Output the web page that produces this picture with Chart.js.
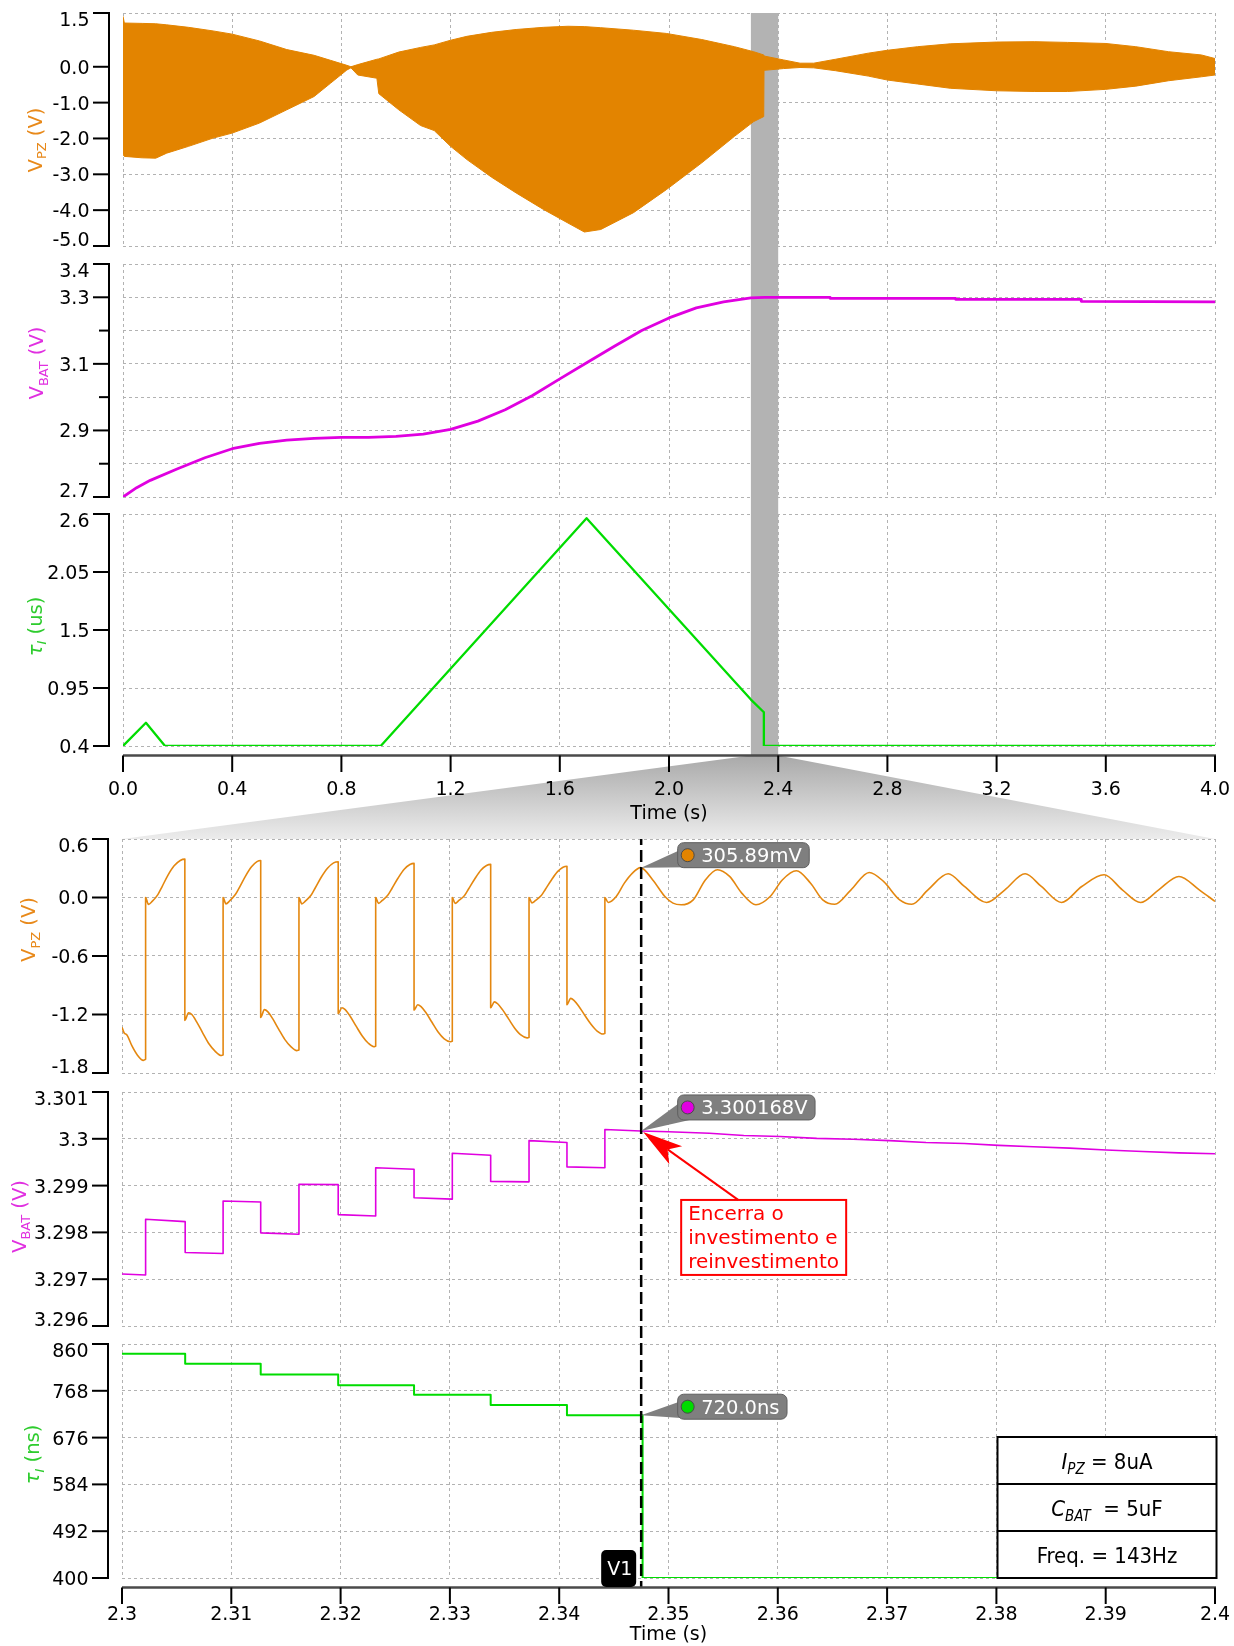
<!DOCTYPE html>
<html>
<head>
<meta charset="utf-8">
<title>VPZ, VBAT e tau</title>
<script src="https://cdn.jsdelivr.net/npm/chart.js@4.4.1/dist/chart.umd.min.js"></script>
<style>
  html, body { margin: 0; padding: 0; background: #fff; }
  #page { position: relative; width: 1234px; height: 1646px; overflow: hidden; }
  #page canvas { position: absolute; left: 0; }
</style>
</head>
<body>
<div id="page">
  <canvas id="bg" width="1234" height="1646" style="top:0"></canvas>
  <canvas id="c1"></canvas>
  <canvas id="c2"></canvas>
  <canvas id="c3"></canvas>
  <canvas id="c4"></canvas>
  <canvas id="c5"></canvas>
  <canvas id="c6"></canvas>
</div>
<script>
// ---- data ----

// top: 0..4 s, V_PZ drawn as its envelope
var envTime  = [0.000, 0.005, 0.07, 0.12, 0.16, 0.24, 0.33, 0.40, 0.50, 0.60, 0.70, 0.76, 0.82, 0.835, 0.86, 0.93, 0.937,
                1.01, 1.09, 1.14, 1.20, 1.26, 1.35, 1.44, 1.54, 1.63, 1.69, 1.75, 1.87, 1.99, 2.12, 2.24, 2.31, 2.347, 2.348,
                2.42, 2.48, 2.53, 2.61, 2.73, 2.80, 2.91, 3.03, 3.20, 3.34, 3.46, 3.60, 3.71, 3.83, 3.95, 4.00];
var envUpper = [1.41, 1.22, 1.21, 1.20, 1.17, 1.10, 1.00, 0.91, 0.72, 0.48, 0.32, 0.18, 0.04, 0.00, 0.06, 0.21, 0.22,
                0.41, 0.54, 0.61, 0.74, 0.85, 0.96, 1.04, 1.10, 1.13, 1.12, 1.09, 1.02, 0.93, 0.76, 0.56, 0.42, 0.33, 0.30,
                0.19, 0.10, 0.10, 0.21, 0.38, 0.46, 0.56, 0.64, 0.69, 0.70, 0.68, 0.65, 0.56, 0.42, 0.33, 0.23];
var envLower = [-2.45, -2.50, -2.54, -2.55, -2.41, -2.22, -1.99, -1.85, -1.57, -1.20, -0.83, -0.46, -0.09, -0.03, -0.23, -0.32, -0.75,
                -1.20, -1.64, -1.78, -2.22, -2.59, -3.08, -3.52, -3.98, -4.36, -4.61, -4.54, -4.07, -3.43, -2.68, -1.94, -1.53, -1.39, -0.10,
                -0.05, -0.02, -0.03, -0.11, -0.26, -0.37, -0.48, -0.60, -0.67, -0.69, -0.69, -0.63, -0.54, -0.39, -0.28, -0.23];

var topVbat = [[0, 2.700], [0.05, 2.728], [0.1, 2.750], [0.2, 2.785], [0.3, 2.818], [0.4, 2.845], [0.5, 2.861], [0.6, 2.871],
               [0.7, 2.876], [0.8, 2.879], [0.9, 2.879], [1.0, 2.882], [1.1, 2.889], [1.2, 2.903], [1.3, 2.928], [1.4, 2.962],
               [1.5, 3.005], [1.6, 3.055], [1.7, 3.104], [1.8, 3.153], [1.9, 3.200], [2.0, 3.238], [2.1, 3.268], [2.2, 3.286],
               [2.3, 3.298], [2.35, 3.300], [2.59, 3.300], [2.59, 3.297], [3.05, 3.297], [3.05, 3.294], [3.51, 3.294],
               [3.51, 3.288], [4.0, 3.286]];

var topTau = [[0, 0.4], [0.084, 0.62], [0.154, 0.4], [0.944, 0.4], [1.698, 2.56], [2.30, 0.84], [2.3475, 0.72],
              [2.3475, 0.4], [4.0, 0.4]];

// bottom: zoom 2.30..2.40 s
var zoomVpz = [
  [2.30000, -1.33], [2.30020, -1.39], [2.30045, -1.41], [2.30090, -1.52], [2.30140, -1.615], [2.30195, -1.67], [2.30216, -1.66],
  [2.30216, 0.00], [2.30242, -0.07], [2.30276, -0.04], [2.30328, 0.03], [2.30366, 0.11], [2.30421, 0.23], [2.30477, 0.325], [2.30533, 0.38], [2.30575, 0.394],
  [2.30575, -1.26], [2.30609, -1.183], [2.30639, -1.20], [2.30683, -1.275], [2.30739, -1.39], [2.30795, -1.50], [2.30851, -1.575], [2.30907, -1.62], [2.30925, -1.615],
  [2.30925, 0.00], [2.30951, -0.065], [2.30985, -0.035], [2.31037, 0.03], [2.31075, 0.105], [2.31130, 0.22], [2.31185, 0.315], [2.31235, 0.368], [2.31269, 0.38],
  [2.31269, -1.23], [2.31303, -1.15], [2.31333, -1.17], [2.31377, -1.24], [2.31433, -1.35], [2.31489, -1.455], [2.31545, -1.53], [2.31600, -1.57], [2.31619, -1.565],
  [2.31619, 0.00], [2.31645, -0.065], [2.31679, -0.035], [2.31731, 0.025], [2.31769, 0.10], [2.31824, 0.21], [2.31880, 0.30], [2.31936, 0.355], [2.31978, 0.367],
  [2.31978, -1.19], [2.32012, -1.13], [2.32042, -1.15], [2.32086, -1.215], [2.32142, -1.32], [2.32198, -1.42], [2.32254, -1.495], [2.32305, -1.53], [2.32321, -1.525],
  [2.32321, 0.00], [2.32347, -0.06], [2.32381, -0.03], [2.32433, 0.025], [2.32471, 0.095], [2.32526, 0.20], [2.32582, 0.29], [2.32634, 0.338], [2.32672, 0.35],
  [2.32672, -1.155], [2.32706, -1.10], [2.32736, -1.12], [2.32780, -1.18], [2.32836, -1.28], [2.32892, -1.38], [2.32948, -1.45], [2.33004, -1.48], [2.33022, -1.475],
  [2.33022, 0.00], [2.33048, -0.06], [2.33082, -0.03], [2.33134, 0.02], [2.33172, 0.09], [2.33227, 0.19], [2.33283, 0.28], [2.33335, 0.328], [2.33373, 0.34],
  [2.33373, -1.13], [2.33407, -1.07], [2.33437, -1.09], [2.33481, -1.15], [2.33537, -1.245], [2.33593, -1.34], [2.33649, -1.41], [2.33705, -1.44], [2.33724, -1.435],
  [2.33724, 0.00], [2.33750, -0.055], [2.33784, -0.03], [2.33836, 0.02], [2.33874, 0.085], [2.33929, 0.18], [2.33985, 0.265], [2.34035, 0.31], [2.34071, 0.32],
  [2.34071, -1.10], [2.34105, -1.035], [2.34135, -1.055], [2.34179, -1.115], [2.34235, -1.21], [2.34291, -1.30], [2.34347, -1.37], [2.34400, -1.40], [2.34418, -1.395],
  [2.34418, 0.00], [2.34448, -0.051], [2.34522, 0.01], [2.34596, 0.147], [2.34670, 0.25], [2.34744, 0.306],
  [2.34856, 0.18], [2.34967, 0.01], [2.35041, -0.058], [2.35115, -0.075], [2.35226, -0.024], [2.35337, 0.18], [2.35448, 0.285],
  [2.35559, 0.216], [2.35670, 0.045], [2.35800, -0.075], [2.35930, 0.01], [2.36041, 0.18], [2.36170, 0.274],
  [2.36300, 0.147], [2.36411, -0.024], [2.36522, -0.069], [2.36670, 0.079], [2.36837, 0.257],
  [2.36967, 0.165], [2.37115, -0.024], [2.37226, -0.069], [2.37374, 0.079], [2.37559, 0.243],
  [2.37707, 0.113], [2.37911, -0.051], [2.38078, 0.079], [2.38263, 0.243],
  [2.38411, 0.113], [2.38596, -0.051], [2.38781, 0.113], [2.38985, 0.233],
  [2.39152, 0.079], [2.39319, -0.051], [2.39485, 0.079], [2.39670, 0.216],
  [2.39856, 0.079], [2.40000, -0.04]
];

var zoomVbat = [
  [2.30000, 3.29711], [2.30216, 3.29709], [2.30216, 3.29828], [2.30578, 3.29823], [2.30578, 3.29757], [2.30925, 3.29755],
  [2.30925, 3.29867], [2.31269, 3.29865], [2.31269, 3.29799], [2.31619, 3.29796],
  [2.31619, 3.29903], [2.31978, 3.29902], [2.31978, 3.29838], [2.32321, 3.29835],
  [2.32321, 3.29938], [2.32672, 3.29935], [2.32672, 3.29874], [2.33022, 3.29871],
  [2.33022, 3.29969], [2.33373, 3.29965], [2.33373, 3.29909], [2.33724, 3.29908],
  [2.33724, 3.29996], [2.34071, 3.29992], [2.34071, 3.29940], [2.34418, 3.29938],
  [2.34418, 3.30020], [2.34744, 3.300168], [2.35000, 3.30015], [2.35374, 3.30012], [2.35689, 3.30007], [2.36022, 3.30005],
  [2.36356, 3.30001], [2.36689, 3.29999], [2.37022, 3.29996], [2.37356, 3.29992], [2.37707, 3.29990], [2.38022, 3.29986],
  [2.38337, 3.29983], [2.38670, 3.29980], [2.39004, 3.29976], [2.39337, 3.29973], [2.39670, 3.29970], [2.40000, 3.29968]
];

var zoomTau = [[2.30000, 841], [2.30578, 841], [2.30578, 821], [2.31269, 821], [2.31269, 800], [2.31978, 800],
               [2.31978, 779], [2.32672, 779], [2.32672, 760], [2.33373, 760], [2.33373, 740], [2.34071, 740],
               [2.34071, 720], [2.34763, 720], [2.34763, 400], [2.40000, 400]];

// ticks
var topTimeTicks = [0, 0.4, 0.8, 1.2, 1.6, 2.0, 2.4, 2.8, 3.2, 3.6, 4.0];
var zoomTimeTicks = [2.30, 2.31, 2.32, 2.33, 2.34, 2.35, 2.36, 2.37, 2.38, 2.39, 2.40];
var vpzTicks = [-5, -4, -3, -2, -1, 0, 1.5];
var batTicks = [2.7, 2.8, 2.9, 3.0, 3.1, 3.2, 3.3, 3.4];
var batLabeled = [2.7, 2.9, 3.1, 3.3, 3.4];
var tauTicks = [0.4, 0.95, 1.5, 2.05, 2.6];
var zVpzTicks = [-1.8, -1.2, -0.6, 0, 0.6];
var zBatTicks = [3.296, 3.297, 3.298, 3.299, 3.300, 3.301];
var zTauTicks = [400, 492, 584, 676, 768, 860];

// zoom window, cursor and readouts
var zoomRange = [2.3, 2.4];
var cursorTime = 2.3475;
var cursorVpz = 0.30589;
var cursorVbat = 3.300168;
var cursorTau = 720;
var noteLines = ['Encerra o', 'investimento e', 'reinvestimento'];
var legendRows = [
  [{text: 'I', size: 22, italic: true}, {text: 'PZ', size: 15, italic: true, sub: 5}, {text: ' = 8uA', size: 22}],
  [{text: 'C', size: 22, italic: true}, {text: 'BAT', size: 15, italic: true, sub: 5}, {text: '  = 5uF', size: 22}],
  [{text: 'Freq. = 143Hz', size: 22}]
];

// ---- drawing ----
var FONT = "'DejaVu Sans', 'Liberation Sans', sans-serif";
var NARROW = "'DejaVu Sans Condensed', 'Liberation Sans Narrow', 'DejaVu Sans', sans-serif";
var GRID = '#b2b2b2';
var ORANGE = '#e38400', MAGENTA = '#e000e0', GREEN = '#00dc00';
var AXIS_GAP = 9.5;
var TICK_PX = 19;

function pts(xs, ys) { return xs.map(function (x, i) { return {x: x, y: ys[i]}; }); }
function pairs(arr) { return arr.map(function (p) { return {x: p[0], y: p[1]}; }); }

function roundRect(ctx, x, y, w, h, r) {
  ctx.beginPath();
  ctx.moveTo(x + r, y);
  ctx.lineTo(x + w - r, y); ctx.arcTo(x + w, y, x + w, y + r, r);
  ctx.lineTo(x + w, y + h - r); ctx.arcTo(x + w, y + h, x + w - r, y + h, r);
  ctx.lineTo(x + r, y + h); ctx.arcTo(x, y + h, x, y + h - r, r);
  ctx.lineTo(x, y + r); ctx.arcTo(x, y, x + r, y, r);
  ctx.closePath();
}

function fontOf(p, family) { return (p.italic ? 'italic ' : '') + p.size + 'px ' + family; }

// text with sub-scripts, on baseline y
function drawRich(ctx, parts, x, y, family, color, center) {
  ctx.fillStyle = color;
  ctx.textAlign = 'left';
  ctx.textBaseline = 'alphabetic';
  var widths = parts.map(function (p) { ctx.font = fontOf(p, family); return ctx.measureText(p.text).width; });
  var total = widths.reduce(function (a, b) { return a + b; }, 0);
  var cx = center ? x - total / 2 : x;
  parts.forEach(function (p, i) {
    ctx.font = fontOf(p, family);
    ctx.fillText(p.text, cx, y + (p.sub || 0));
    cx += widths[i];
  });
}

function drawBand(chart, p) {
  var ctx = chart.ctx, a = chart.chartArea, x = chart.scales.x;
  var x0 = x.getPixelForValue(zoomRange[0]), x1 = x.getPixelForValue(zoomRange[1]);
  var y0 = p.band === 'first' ? a.top : 0;
  var y1 = p.band === 'last' ? a.bottom + AXIS_GAP : chart.height;
  ctx.save();
  ctx.fillStyle = '#b3b3b3';
  ctx.fillRect(x0, y0, x1 - x0, y1 - y0);
  ctx.restore();
}

function drawCursor(chart, p) {
  var ctx = chart.ctx, a = chart.chartArea, x = chart.scales.x;
  var cx = x.getPixelForValue(cursorTime);
  var y0 = p.cursor === 'first' ? a.top : 0;
  var y1 = p.cursor === 'last' ? a.bottom + AXIS_GAP : chart.height;
  ctx.save();
  ctx.strokeStyle = '#000';
  ctx.lineWidth = 2.5;
  ctx.setLineDash([12, 5]);
  ctx.lineDashOffset = p.top + y0;
  ctx.beginPath(); ctx.moveTo(cx, y0); ctx.lineTo(cx, y1); ctx.stroke();
  ctx.restore();
}

function callout(chart, value, dy, text, color) {
  var ctx = chart.ctx;
  var px = chart.scales.x.getPixelForValue(cursorTime), py = chart.scales.y.getPixelForValue(value);
  ctx.save();
  ctx.font = '19.5px ' + FONT;
  var tw = ctx.measureText(text).width;
  var bx = px + 36.5, by = py + dy, bw = tw + 31, bh = 25;
  ctx.fillStyle = '#7f7f7f';
  ctx.beginPath(); ctx.moveTo(px, py); ctx.lineTo(bx + 3, by + 7); ctx.lineTo(bx + 14, by + bh - 0.5); ctx.closePath(); ctx.fill();
  roundRect(ctx, bx, by, bw, bh, 6);
  ctx.fill();
  ctx.strokeStyle = '#5f5f5f'; ctx.lineWidth = 1; ctx.stroke();
  ctx.beginPath(); ctx.arc(bx + 10, by + bh / 2, 6.5, 0, Math.PI * 2);
  ctx.fillStyle = color; ctx.fill();
  ctx.strokeStyle = '#4a4a4a'; ctx.stroke();
  ctx.fillStyle = '#fff'; ctx.textAlign = 'left'; ctx.textBaseline = 'alphabetic';
  ctx.fillText(text, bx + 23.5, by + bh / 2 + 7);
  ctx.restore();
}

function drawNote(chart) {
  var ctx = chart.ctx;
  var px = chart.scales.x.getPixelForValue(cursorTime), py = chart.scales.y.getPixelForValue(cursorVbat);
  var bx = px + 40, by = py + 69, bw = 165, bh = 75;
  ctx.save();
  ctx.fillStyle = '#fff'; ctx.fillRect(bx, by, bw, bh);
  ctx.strokeStyle = '#ff0000'; ctx.lineWidth = 2; ctx.strokeRect(bx, by, bw, bh);
  ctx.fillStyle = '#ff0000'; ctx.font = '20px ' + FONT; ctx.textAlign = 'left'; ctx.textBaseline = 'alphabetic';
  noteLines.forEach(function (t, i) { ctx.fillText(t, bx + 7, by + 20.5 + i * 23.6); });
  // arrow from box to the point
  var x0 = bx + 57, y0 = by, x1 = px + 2, y1 = py + 1;
  var ang = Math.atan2(y1 - y0, x1 - x0), ux = Math.cos(ang), uy = Math.sin(ang);
  var L = 40, W = 11, N = 30;
  var hx = x1 - ux * L, hy = y1 - uy * L, nx = x1 - ux * N, ny = y1 - uy * N;
  ctx.beginPath(); ctx.moveTo(x0, y0); ctx.lineTo(nx, ny); ctx.stroke();
  ctx.beginPath();
  ctx.moveTo(x1, y1); ctx.lineTo(hx - uy * W, hy + ux * W); ctx.lineTo(nx, ny); ctx.lineTo(hx + uy * W, hy - ux * W);
  ctx.closePath(); ctx.fill();
  ctx.restore();
}

function drawLegend(chart) {
  var ctx = chart.ctx, a = chart.chartArea;
  var w = 219, rowH = 47, h = rowH * legendRows.length;
  var x0 = a.right + 1.5 - w, y0 = a.bottom - h;
  ctx.save();
  ctx.fillStyle = '#fff'; ctx.fillRect(x0, y0, w, h);
  ctx.strokeStyle = '#000'; ctx.lineWidth = 2;
  ctx.strokeRect(x0, y0, w, h);
  for (var i = 1; i < legendRows.length; i++) {
    ctx.beginPath(); ctx.moveTo(x0, y0 + i * rowH); ctx.lineTo(x0 + w, y0 + i * rowH); ctx.stroke();
  }
  legendRows.forEach(function (parts, i) {
    drawRich(ctx, parts, x0 + w / 2, y0 + rowH * i + rowH / 2 + 8, NARROW, '#000', true);
  });
  ctx.restore();
}

function drawV1(chart) {
  var ctx = chart.ctx, a = chart.chartArea;
  var cx = chart.scales.x.getPixelForValue(cursorTime);
  ctx.save();
  ctx.fillStyle = '#000';
  roundRect(ctx, cx - 40, a.bottom - 28, 35, 37, 5);
  ctx.fill();
  ctx.fillStyle = '#fff'; ctx.font = TICK_PX + 'px ' + FONT; ctx.textAlign = 'center'; ctx.textBaseline = 'alphabetic';
  ctx.fillText('V1', cx - 21.5, a.bottom - 3);
  ctx.restore();
}

function drawAxes(chart, p) {
  var ctx = chart.ctx, a = chart.chartArea, x = chart.scales.x, y = chart.scales.y;
  var ax = a.left - 14;
  var yt = p.yTicks;
  ctx.save();
  ctx.strokeStyle = '#000'; ctx.lineWidth = 2; ctx.fillStyle = '#000';
  var top = y.getPixelForValue(yt[yt.length - 1]), bot = y.getPixelForValue(yt[0]);
  ctx.beginPath(); ctx.moveTo(ax, top - 1); ctx.lineTo(ax, bot + 1); ctx.stroke();
  ctx.font = TICK_PX + 'px ' + FONT; ctx.textAlign = 'right'; ctx.textBaseline = 'alphabetic';
  yt.forEach(function (v, i) {
    var py = y.getPixelForValue(v);
    var lab = p.yFormat(v);
    ctx.beginPath(); ctx.moveTo(ax - (lab ? 16 : 10), py); ctx.lineTo(ax, py); ctx.stroke();
    if (!lab) return;
    var base = py + 6.9;
    if (i === yt.length - 1) base = py + 13.3;
    else if (i === 0 && p.lowLabelUp) base = py;
    ctx.fillText(lab, a.left - 33.5, base);
  });
  ctx.save();
  ctx.translate(p.titleX, p.titleY);
  ctx.rotate(-Math.PI / 2);
  drawRich(ctx, p.title, 0, 6.8, FONT, p.titleColor, true);
  ctx.restore();
  if (p.xAxis) {
    var ly = a.bottom + AXIS_GAP;
    ctx.strokeStyle = '#4a4a4a'; ctx.lineWidth = 2.5;
    ctx.beginPath(); ctx.moveTo(a.left, ly); ctx.lineTo(a.right + 1, ly); ctx.stroke();
    ctx.strokeStyle = '#000'; ctx.lineWidth = 2;
    p.xTicks.forEach(function (v) {
      var px = x.getPixelForValue(v);
      ctx.beginPath(); ctx.moveTo(px, ly); ctx.lineTo(px, ly + 16.5); ctx.stroke();
    });
  }
  ctx.restore();
}

function makePanel(p) {
  var canvas = document.getElementById(p.id);
  canvas.style.top = p.top + 'px';
  canvas.width = 1234;
  canvas.height = p.height;
  var deco = {
    id: 'deco',
    beforeDatasetsDraw: function (chart) { if (p.band) drawBand(chart, p); },
    afterDatasetsDraw: function (chart) {
      if (p.cursor) drawCursor(chart, p);
      if (p.over) p.over(chart);
    },
    afterDraw: function (chart) {
      drawAxes(chart, p);
      if (p.last) p.last(chart);
    }
  };
  return new Chart(canvas, {
    type: 'line',
    data: { datasets: p.datasets },
    options: {
      responsive: false,
      animation: false,
      events: [],
      layout: { padding: { top: p.padTop, bottom: p.padBottom, left: 0, right: 19 } },
      plugins: { legend: { display: false }, tooltip: { enabled: false } },
      elements: { point: { radius: 0 }, line: { borderJoinStyle: 'round' } },
      scales: {
        x: {
          type: 'linear', min: p.xMin, max: p.xMax,
          afterBuildTicks: function (s) { s.ticks = p.xTicks.map(function (v) { return {value: v}; }); },
          grid: { color: GRID, lineWidth: 1, drawTicks: false },
          border: { display: false, dash: [3, 3] },
          ticks: {
            display: !!p.xAxis, autoSkip: false, maxRotation: 0, padding: p.xPad || 0,
            color: '#000', font: { family: FONT, size: TICK_PX }, callback: p.xFormat
          },
          title: {
            display: !!p.xAxis, text: 'Time (s)', color: '#000',
            font: { family: FONT, size: TICK_PX }, padding: { top: 0, bottom: p.titlePad || 0 }
          },
          afterFit: function (s) { s.height = p.xHeight; s.paddingLeft = 0; s.paddingRight = 0; }
        },
        y: {
          type: 'linear', min: p.yMin, max: p.yMax,
          afterBuildTicks: function (s) { s.ticks = p.yTicks.map(function (v) { return {value: v}; }); },
          grid: { color: GRID, lineWidth: 1, drawTicks: false },
          border: { display: false, dash: [3, 3] },
          ticks: { display: false },
          afterFit: function (s) { s.width = p.left; s.paddingTop = 0; s.paddingBottom = 0; }
        }
      }
    },
    plugins: [deco]
  });
}

var fmt1 = function (v) { return Number(v).toFixed(1); };
var fmtPlain = function (v) { return String(Number(Number(v).toFixed(3))); };
var fmtZoomT = function (v) { return String(Number(Number(v).toFixed(2))); };
var titleVpz = [{text: 'V', size: 19.5}, {text: 'PZ', size: 13, sub: 4.5}, {text: ' (V)', size: 19.5}];
var titleVbat = [{text: 'V', size: 19.5}, {text: 'BAT', size: 13, sub: 4.5}, {text: ' (V)', size: 19.5}];
var titleTauUs = [{text: '\u03C4', size: 19.5, italic: true}, {text: 'I', size: 13, italic: true, sub: 4.5}, {text: ' (us)', size: 19.5}];
var titleTauNs = [{text: '\u03C4', size: 19.5, italic: true}, {text: 'I', size: 13, italic: true, sub: 4.5}, {text: ' (ns)', size: 19.5}];

var ch1 = makePanel({
  id: 'c1', top: 0, height: 255, padTop: 13, padBottom: 9, left: 123, xHeight: 0,
  xMin: 0, xMax: 4, xTicks: topTimeTicks, yMin: -5, yMax: 1.5, yTicks: vpzTicks, yFormat: fmt1, lowLabelUp: true,
  title: titleVpz, titleColor: '#e8891a', titleX: 35, titleY: 140, band: 'first',
  datasets: [
    { data: pts(envTime, envUpper), borderColor: ORANGE, borderWidth: 1, backgroundColor: ORANGE, fill: '+1' },
    { data: pts(envTime, envLower), borderColor: ORANGE, borderWidth: 1, fill: false }
  ]
});

var ch2 = makePanel({
  id: 'c2', top: 255, height: 250, padTop: 9, padBottom: 8, left: 123, xHeight: 0,
  xMin: 0, xMax: 4, xTicks: topTimeTicks, yMin: 2.7, yMax: 3.4, yTicks: batTicks, lowLabelUp: true,
  yFormat: function (v) { return batLabeled.some(function (l) { return Math.abs(l - v) < 1e-9; }) ? v.toFixed(1) : ''; },
  title: titleVbat, titleColor: '#e030e0', titleX: 36.5, titleY: 108, band: 'mid',
  datasets: [{ data: pairs(topVbat), borderColor: MAGENTA, borderWidth: 2.8, fill: false }]
});

var ch3 = makePanel({
  id: 'c3', top: 505, height: 325, padTop: 9, padBottom: 0, left: 123, xHeight: 84, xAxis: true, xPad: 32.5, titlePad: 5,
  xMin: 0, xMax: 4, xTicks: topTimeTicks, xFormat: fmt1, yMin: 0.4, yMax: 2.6, yTicks: tauTicks, yFormat: fmtPlain,
  title: titleTauUs, titleColor: '#2ecc2e', titleX: 35, titleY: 121.5, band: 'last',
  datasets: [{ data: pairs(topTau), borderColor: GREEN, borderWidth: 2.3, fill: false }]
});

var ch4 = makePanel({
  id: 'c4', top: 830, height: 253, padTop: 9, padBottom: 10, left: 122, xHeight: 0,
  xMin: 2.3, xMax: 2.4, xTicks: zoomTimeTicks, yMin: -1.8, yMax: 0.6, yTicks: zVpzTicks, yFormat: fmt1, lowLabelUp: true,
  title: titleVpz, titleColor: '#e8891a', titleX: 28.5, titleY: 99.5, cursor: 'first',
  over: function (chart) { callout(chart, cursorVpz, -25, (cursorVpz * 1000).toFixed(2) + 'mV', ORANGE); },
  datasets: [{ data: pairs(zoomVpz), borderColor: '#e4870f', borderWidth: 1.6, fill: false, cubicInterpolationMode: 'monotone' }]
});

var ch5 = makePanel({
  id: 'c5', top: 1083, height: 252, padTop: 9, padBottom: 9, left: 122, xHeight: 0,
  xMin: 2.3, xMax: 2.4, xTicks: zoomTimeTicks, yMin: 3.296, yMax: 3.301, yTicks: zBatTicks, yFormat: fmtPlain, lowLabelUp: true,
  title: titleVbat, titleColor: '#e030e0', titleX: 19, titleY: 133.5, cursor: 'mid',
  over: function (chart) {
    drawNote(chart);
    callout(chart, cursorVbat, -36, cursorVbat.toFixed(6) + 'V', MAGENTA);
  },
  datasets: [{ data: pairs(zoomVbat), borderColor: MAGENTA, borderWidth: 1.6, fill: false }]
});

var ch6 = makePanel({
  id: 'c6', top: 1335, height: 311, padTop: 9, padBottom: 0, left: 122, xHeight: 68, xAxis: true, xPad: 25.5, titlePad: 0,
  xMin: 2.3, xMax: 2.4, xTicks: zoomTimeTicks, xFormat: fmtZoomT, yMin: 400, yMax: 860, yTicks: zTauTicks, yFormat: fmtPlain,
  title: titleTauNs, titleColor: '#2ecc2e', titleX: 32.5, titleY: 119.5, cursor: 'last',
  over: function (chart) {
    callout(chart, cursorTau, -21, cursorTau.toFixed(1) + 'ns', GREEN);
    drawLegend(chart);
  },
  last: drawV1,
  datasets: [{ data: pairs(zoomTau), borderColor: GREEN, borderWidth: 2, fill: false }]
});

// grey funnel from the highlighted window down to the zoomed plots
(function () {
  var ctx = document.getElementById('bg').getContext('2d');
  var a3 = ch3.chartArea, x3 = ch3.scales.x, a4 = ch4.chartArea;
  var yTop = 505 + a3.bottom + AXIS_GAP, yBot = 830 + a4.top;
  var xl = x3.getPixelForValue(zoomRange[0]), xr = x3.getPixelForValue(zoomRange[1]);
  var g = ctx.createLinearGradient(0, yTop, 0, yBot);
  g.addColorStop(0, '#a9a9a9');
  g.addColorStop(1, '#ececec');
  ctx.fillStyle = g;
  ctx.beginPath();
  ctx.moveTo(xl, yTop); ctx.lineTo(xr, yTop); ctx.lineTo(a4.right, yBot); ctx.lineTo(a4.left, yBot);
  ctx.closePath();
  ctx.fill();
})();
</script>
</body>
</html>
